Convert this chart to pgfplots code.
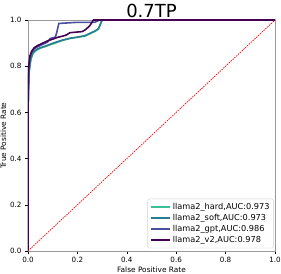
\documentclass[border=0pt]{standalone}
\usepackage{fontspec}
\setmainfont{DejaVu Sans}
\usepackage{pgfplots}
\pgfplotsset{compat=1.18}
\definecolor{chard}{HTML}{3DBF98}
\definecolor{csoft}{HTML}{2A7D8E}
\definecolor{cgpt}{HTML}{4A4F9E}
\definecolor{cv2}{HTML}{440154}
\begin{document}
\begin{tikzpicture}
\begin{axis}[
  at={(0,0)}, anchor=south west,
  scale only axis, width=247pt, height=231pt,
  xmin=0, xmax=1, ymin=0, ymax=1,
  xtick={0,0.2,...,1.0}, ytick={0,0.2,...,1.0},
  tick label style={font=\fontsize{7.2}{8}\selectfont, /pgf/number format/.cd, fixed, fixed zerofill, precision=1, assume math mode=true},
  tick align=outside, tick pos=left,
  major tick length=3pt,
  axis line style={draw=gray!80},
  every tick/.style={black, line width=0.5pt},
  xlabel={False Positive Rate}, ylabel={True Positive Rate},
  label style={font=\fontsize{7.4}{8}\selectfont},
  xlabel style={yshift=3pt}, ylabel style={yshift=-3pt},
  title={0.7TP}, title style={font=\fontsize{18}{20}\selectfont, yshift=-7pt},
  legend style={at={(0.995,0.012)}, anchor=south east, font=\fontsize{8.2}{9}\selectfont, draw=gray!35, rounded corners=2pt, row sep=-0.6pt, inner sep=2pt},
  legend cell align=left,
  legend image code/.code={\draw[#1, line width=1.8pt] (0cm,0cm) -- (0.68cm,0cm);},
]
\addplot[chard, line width=1.6pt] coordinates {(0,0) (0,0.6) (0.003,0.76) (0.008,0.80) (0.012,0.83) (0.02,0.855) (0.035,0.87) (0.05,0.878) (0.07,0.885) (0.09,0.893) (0.11,0.90) (0.14,0.912) (0.17,0.92) (0.20,0.925) (0.23,0.93) (0.25,0.94) (0.27,0.95) (0.285,0.96) (0.30,1.0) (1,1)};
\addlegendentry{llama2\_hard,AUC:0.973}
\addplot[csoft, line width=1.6pt] coordinates {(0,0) (0,0.6) (0.003,0.77) (0.008,0.81) (0.012,0.835) (0.02,0.86) (0.035,0.872) (0.05,0.88) (0.07,0.887) (0.09,0.895) (0.11,0.903) (0.14,0.913) (0.17,0.921) (0.20,0.926) (0.23,0.932) (0.25,0.942) (0.27,0.952) (0.285,0.962) (0.30,1.0) (1,1)};
\addlegendentry{llama2\_soft,AUC:0.973}
\addplot[cgpt, line width=1.6pt] coordinates {(0,0) (0,0.62) (0.003,0.80) (0.008,0.84) (0.015,0.86) (0.025,0.875) (0.04,0.885) (0.06,0.895) (0.08,0.905) (0.09,0.92) (0.11,0.925) (0.115,0.94) (0.125,0.985) (0.20,0.99) (0.27,0.99) (0.29,1.0) (1,1)};
\addlegendentry{llama2\_gpt,AUC:0.986}
\addplot[cv2, line width=1.6pt] coordinates {(0,0) (0,0.6) (0.003,0.80) (0.008,0.845) (0.015,0.865) (0.025,0.88) (0.04,0.89) (0.06,0.90) (0.08,0.91) (0.10,0.917) (0.12,0.925) (0.14,0.93) (0.155,0.935) (0.17,0.945) (0.22,0.95) (0.235,0.96) (0.25,0.975) (0.265,1.0) (1,1)};
\addlegendentry{llama2\_v2,AUC:0.978}
\addplot[red, line width=0.7pt, dash pattern=on 1.5pt off 1pt, forget plot] coordinates {(0,0) (1,1)};
\end{axis}
\pgfresetboundingbox
\path[use as bounding box] (-28pt,-22pt) rectangle (253pt,251pt);
\end{tikzpicture}
\end{document}
